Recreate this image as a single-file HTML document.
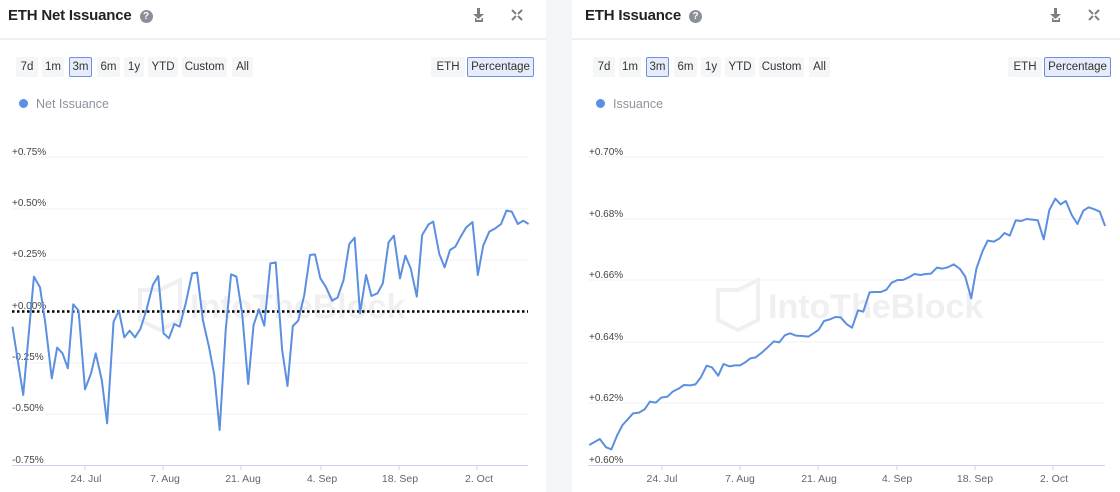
<!DOCTYPE html>
<html><head><meta charset="utf-8"><style>
*{margin:0;padding:0;box-sizing:border-box}
body{width:1120px;height:492px;overflow:hidden;background:#f4f5f7;font-family:"Liberation Sans",sans-serif;position:relative}
.panel{position:absolute;top:0;height:492px;background:#fff}
.title{position:absolute;top:7px;font-size:15px;color:#222;font-weight:bold;letter-spacing:-0.2px}
.q{display:inline-block;width:13px;height:13px;border-radius:50%;background:#8a8f98;color:#fff;font-size:10px;text-align:center;line-height:13px;font-weight:bold;margin-left:8px;vertical-align:1px}
.hr{position:absolute;left:0;right:0;top:38px;height:2px;background:#eef0f3}
.btn{position:absolute;top:57px;height:20px;background:#f5f6f8;font-size:11.5px;color:#333;text-align:center;line-height:20px;border-radius:2px}
.btn.on{background:#e6ecfa;border:1px solid #6f8fe0;line-height:18px}
.leg{position:absolute;top:97px;font-size:12.5px;color:#8d939c}
.leg i{display:inline-block;width:9px;height:9px;border-radius:50%;background:#5b8fe0;margin-right:8px;vertical-align:0}
svg{position:absolute;left:0;top:0}
</style></head><body>
<div class="panel" style="left:0;width:546px">
 <div class="title" style="left:8px">ETH Net Issuance<span class="q">?</span></div>
 <div class="hr"></div>
 <div class="btn" style="left:16px;width:22px">7d</div>
 <div class="btn" style="left:42px;width:22px">1m</div>
 <div class="btn on" style="left:69px;width:23px">3m</div>
 <div class="btn" style="left:97px;width:23px">6m</div>
 <div class="btn" style="left:124px;width:20px">1y</div>
 <div class="btn" style="left:148px;width:30px">YTD</div>
 <div class="btn" style="left:182px;width:45px">Custom</div>
 <div class="btn" style="left:232px;width:21px">All</div>
 <div class="btn" style="left:431px;width:34px">ETH</div>
 <div class="btn on" style="left:467px;width:67px">Percentage</div>
 <div class="leg" style="left:19px"><i></i>Net Issuance</div>
</div>
<div class="panel" style="left:572px;width:548px">
 <div class="title" style="left:13px">ETH Issuance<span class="q">?</span></div>
 <div class="hr"></div>
 <div class="btn" style="left:21px;width:22px">7d</div>
 <div class="btn" style="left:47px;width:22px">1m</div>
 <div class="btn on" style="left:74px;width:23px">3m</div>
 <div class="btn" style="left:102px;width:23px">6m</div>
 <div class="btn" style="left:129px;width:20px">1y</div>
 <div class="btn" style="left:153px;width:30px">YTD</div>
 <div class="btn" style="left:187px;width:45px">Custom</div>
 <div class="btn" style="left:237px;width:21px">All</div>
 <div class="btn" style="left:436px;width:34px">ETH</div>
 <div class="btn on" style="left:472px;width:67px">Percentage</div>
 <div class="leg" style="left:24px"><i></i>Issuance</div>
</div>
<svg width="1120" height="492" font-family="Liberation Sans, sans-serif" font-size="10" fill="#444">
 <g fill="#7a7f87">
  <rect x="477" y="8" width="3" height="8"/><polygon points="473,14 484,14 478.5,19"/><rect x="476" y="20" width="6" height="2"/><rect x="475" y="18" width="1.5" height="4"/><rect x="481.5" y="18" width="1.5" height="4"/>
  <rect x="1054" y="8" width="3" height="8"/><polygon points="1050,14 1061,14 1055.5,19"/><rect x="1053" y="20" width="6" height="2"/><rect x="1052" y="18" width="1.5" height="4"/><rect x="1058.5" y="18" width="1.5" height="4"/>
 </g>
 <g stroke="#7a7f87" stroke-width="2" fill="none">
  <path d="M512,10 l4,4 M522,10 l-4,4 M512,20 l4,-4 M522,20 l-4,-4"/>
  <path d="M1089,10 l4,4 M1099,10 l-4,4 M1089,20 l4,-4 M1099,20 l-4,-4"/>
 </g>
 <g stroke="#f1f2f5" stroke-width="1">
  <line x1="12" x2="528" y1="157" y2="157"/><line x1="12" x2="528" y1="209" y2="209"/><line x1="12" x2="528" y1="260" y2="260"/><line x1="12" x2="528" y1="363" y2="363"/><line x1="12" x2="528" y1="414" y2="414"/>
  <line x1="588" x2="1105" y1="157" y2="157"/><line x1="588" x2="1105" y1="219" y2="219"/><line x1="588" x2="1105" y1="280" y2="280"/><line x1="588" x2="1105" y1="342" y2="342"/><line x1="588" x2="1105" y1="403" y2="403"/>
 </g>
 <g stroke="#ccd6eb"><line x1="12" x2="528" y1="465.5" y2="465.5"/><line x1="588" x2="1105" y1="465.5" y2="465.5"/>
  <line x1="85" x2="85" y1="465" y2="470"/><line x1="163" x2="163" y1="465" y2="470"/><line x1="241" x2="241" y1="465" y2="470"/><line x1="321" x2="321" y1="465" y2="470"/><line x1="399" x2="399" y1="465" y2="470"/><line x1="477" x2="477" y1="465" y2="470"/>
  <line x1="662" x2="662" y1="465" y2="470"/><line x1="740" x2="740" y1="465" y2="470"/><line x1="818" x2="818" y1="465" y2="470"/><line x1="897" x2="897" y1="465" y2="470"/><line x1="975" x2="975" y1="465" y2="470"/><line x1="1053" x2="1053" y1="465" y2="470"/>
 </g>
 <g fill="#f0f0f2" font-size="34" font-weight="bold"><text x="190" y="318">IntoTheBlock</text><text x="768" y="318">IntoTheBlock</text></g>
 <g fill="none" stroke="#f0f0f2" stroke-width="4"><polygon points="160,290 180,280 180,320 160,330 140,320 140,290"/><polygon points="738,290 758,280 758,320 738,330 718,320 718,290"/></g>
 <g>
  <text x="12" y="155">+0.75%</text><text x="12" y="206">+0.50%</text><text x="12" y="257">+0.25%</text><text x="12" y="309">+0.00%</text><text x="12" y="360">-0.25%</text><text x="12" y="411">-0.50%</text><text x="12" y="463">-0.75%</text>
  <text x="589" y="155">+0.70%</text><text x="589" y="217">+0.68%</text><text x="589" y="278">+0.66%</text><text x="589" y="340">+0.64%</text><text x="589" y="401">+0.62%</text><text x="589" y="463">+0.60%</text>
 </g>
 <g text-anchor="middle" fill="#666" font-size="10.5">
  <text x="86" y="482">24. Jul</text><text x="165" y="482">7. Aug</text><text x="243" y="482">21. Aug</text><text x="322" y="482">4. Sep</text><text x="400" y="482">18. Sep</text><text x="479" y="482">2. Oct</text>
  <text x="662" y="482">24. Jul</text><text x="740" y="482">7. Aug</text><text x="819" y="482">21. Aug</text><text x="897" y="482">4. Sep</text><text x="975" y="482">18. Sep</text><text x="1054" y="482">2. Oct</text>
 </g>
 <line x1="12" x2="528" y1="311.5" y2="311.5" stroke="#000" stroke-width="2.5" stroke-dasharray="2.5,2.5"/>
 <g transform="translate(0,140) scale(0.35714,0.33333)">
 <polyline fill="none" stroke="#5b8fe0" stroke-width="2" vector-effect="non-scaling-stroke" stroke-linejoin="round" points="35,560 65,765 95,410 112,442 127,550 145,715 160,623 175,640 190,685 205,493 220,512 238,748 255,700 268,640 285,720 300,850 318,545 333,512 348,592 363,572 378,592 393,567 410,510 428,435 443,408 458,580 473,595 488,552 503,560 520,490 538,400 552,398 568,540 585,620 600,705 615,870 632,570 647,403 662,410 678,520 695,732 710,555 725,508 740,557 757,370 772,367 790,630 805,738 820,558 835,542 852,465 868,345 882,343 897,415 912,440 930,482 945,473 962,420 978,312 993,293 1008,520 1025,405 1040,468 1057,460 1072,430 1088,307 1103,287 1120,415 1135,347 1150,385 1167,470 1182,285 1200,253 1213,245 1230,342 1245,382 1260,330 1275,320 1290,290 1305,263 1323,246 1338,405 1353,317 1370,275 1387,265 1403,252 1418,212 1433,215 1450,252 1465,242 1480,252"/>
 </g>
 <g transform="translate(570,140) scale(0.3504,0.33333)">
 <polyline fill="none" stroke="#5b8fe0" stroke-width="2" vector-effect="non-scaling-stroke" stroke-linejoin="round" points="55,915 85,897 103,922 118,928 135,885 150,855 165,838 180,820 197,818 213,808 228,785 245,788 260,773 278,770 293,755 310,746 325,735 343,736 358,733 373,713 390,677 405,682 423,707 438,672 455,679 470,676 485,676 500,667 515,655 530,652 545,640 560,626 582,604 597,607 613,586 628,580 645,587 663,588 680,590 695,580 710,569 725,543 742,538 757,531 772,532 790,553 805,563 822,511 837,515 855,457 870,456 887,456 903,449 918,428 935,420 950,420 967,412 983,402 1000,405 1015,402 1030,401 1047,383 1062,386 1078,382 1095,373 1113,387 1128,410 1145,475 1160,385 1178,332 1192,302 1210,305 1225,296 1240,279 1255,287 1272,241 1288,243 1303,237 1320,239 1335,241 1352,298 1368,210 1385,176 1400,193 1415,183 1432,225 1448,252 1465,212 1480,202 1497,208 1512,215 1527,258"/>
 </g>
</svg>
</body></html>
